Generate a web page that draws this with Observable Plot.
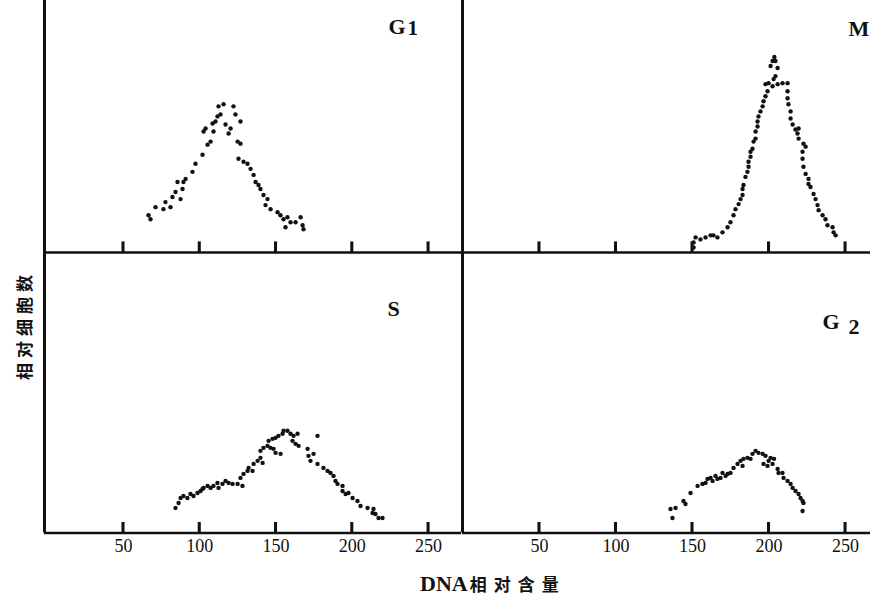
<!DOCTYPE html>
<html>
<head>
<meta charset="utf-8">
<script src="https://cdn.jsdelivr.net/npm/d3@7"></script>
<script src="https://cdn.jsdelivr.net/npm/@observablehq/plot@0.6"></script>
<style>
  html, body { margin: 0; padding: 0; background: #fff; }
  #chart { position: relative; width: 870px; height: 598px; overflow: hidden; background: #fff; }
  #chart svg { position: absolute; }
  .ylab { position: absolute; left: 23px; top: 325px; transform: translate(-50%, -50%) rotate(-90deg);
          white-space: nowrap; font-family: "Noto Sans CJK SC"; font-weight: bold; font-size: 17px;
          letter-spacing: 5px; color: #111; }
  .xlab { position: absolute; left: 420px; top: 573px; white-space: nowrap; line-height: 22px; color: #111; }
  .xlab .latin { font-family: "Liberation Serif"; font-weight: bold; font-size: 22px; }
  .xlab .cjk { font-family: "Noto Sans CJK SC"; font-weight: bold; font-size: 17px; letter-spacing: 7px; margin-left: 2px; }
</style>
</head>
<body>
<div id="chart">
  <div class="ylab">相对细胞数</div>
  <div class="xlab"><span class="latin">DNA</span><span class="cjk">相对含量</span></div>
</div>
<script>
// ---- data: [DNA relative content, relative cell number] ----
const xTicks = [50, 100, 150, 200, 250];

const g1 = [[66.4,14.8],[67.7,13.2],[71.0,18],[76.2,17.2],[77.5,20],[80.8,18],[82.1,22],[84.1,24],[85.4,28],[87.4,21.2],
  [88.7,25.2],[89.3,28],[90.7,29.2],[95.2,32],[97.2,35.2],[101.8,38.8],[105.1,42.8],[107.1,44],[102.5,48],[103.8,49.2],
  [109.0,48],[110.3,52],[108.4,51.2],[111.6,54],[112.3,58],[115.6,58.8],[113.6,54.8],[116.9,50.8],[120.2,49.2],[118.9,47.2],
  [122.1,58],[123.4,54.8],[126.7,52],[124.8,44],[126.7,43.2],[125.4,37.2],[128.7,36],[131.3,35.2],[133.3,33.2],[135.3,30.8],
  [136.6,28],[138.5,26.8],[139.8,25.2],[141.8,22.8],[144.4,21.2],[143.1,18.8],[146.4,17.2],[151.0,16],[152.9,14.8],[154.9,13.2],
  [157.5,14],[159.5,12],[162.8,12],[166.1,14],[156.2,10],[167.4,10.8],[168.0,9.2]];

const m = [[150.7,2],[150.7,4],[152.0,6],[155.2,5.2],[158.5,6],[161.8,6.8],[163.7,6.8],[166.3,6],[169.6,8],[172.9,10],
  [174.8,12],[176.8,14.8],[178.1,17.2],[180.1,19.2],[181.4,21.2],[182.7,22.8],[182.7,25.2],[183.3,26.8],[184.6,30],[185.9,32],
  [186.6,34],[186.6,36],[187.9,38],[187.9,40],[189.2,41.2],[189.9,44],[191.2,45.2],[191.2,48],[192.5,50],[192.5,52],
  [193.1,54],[194.4,56],[195.8,58],[196.4,60],[197.7,62],[199.0,64],[197.7,66.8],[199.7,67.2],[202.3,66],[205.6,66.8],
  [208.8,67.2],[212.1,67.2],[203.0,68.8],[204.2,70],[201.0,74],[205.6,73.2],[202.3,76],[204.2,76],[203.5,77.6],[212.1,64],
  [212.1,61.2],[212.7,58.8],[214.1,56],[214.1,53.2],[215.4,50.8],[217.3,48.8],[219.3,49.2],[218.6,47.2],[219.3,45.2],[222.5,43.2],
  [223.9,42],[221.9,40],[221.9,37.2],[222.5,34],[223.9,31.2],[225.8,29.2],[225.8,27.2],[227.1,26],[229.1,23.2],[230.4,21.2],
  [231.7,18.8],[232.4,16.8],[235.0,14.8],[236.9,13.2],[238.2,10.8],[241.5,10],[242.2,8],[243.5,6.8]];

const s = [[84.1,10],[86.1,12],[87.4,14],[89.3,14.8],[91.9,14],[93.9,15.6],[95.9,14.8],[98.5,16],[100.5,16.8],[101.8,17.6],
  [102.5,18],[105.1,18.8],[107.1,18],[109.0,18.8],[111.6,20],[112.3,18],[114.9,19.6],[116.9,20.8],[118.9,20],[121.5,19.6],
  [124.8,19.6],[128.0,18.8],[126.7,22],[128.7,23.6],[131.3,24.8],[132.0,26],[134.6,24.8],[135.3,27.6],[137.9,28.8],[139.8,30],
  [141.2,28],[139.8,32.8],[141.8,34],[144.4,34.8],[146.4,34],[148.4,33.6],[145.1,36.8],[147.7,37.6],[149.7,38],[151.6,38.8],
  [154.3,39.6],[157.5,40.8],[154.9,40.8],[159.5,39.6],[161.5,38.8],[164.1,39.6],[160.8,36.8],[162.8,35.6],[164.8,34.8],[149.7,32],
  [153.0,31.6],[177.2,38.8],[170.7,33.6],[171.3,30.8],[172.6,28.8],[174.6,31.6],[177.2,27.6],[181.1,26],[183.8,24.8],[185.7,24],
  [187.7,22.8],[189.0,20.8],[190.3,19.6],[193.6,18.8],[193.6,16.8],[195.6,15.6],[197.5,16],[200.2,14],[203.4,12.8],[205.4,10.8],
  [210.0,10],[213.9,9.6],[217.2,6],[219.8,6],[213.3,8],[215.2,7.6]];

const g2 = [[136.9,6],[135.6,9.6],[138.9,10],[144.1,12.8],[145.4,11.6],[148.7,16],[153.3,18.8],[156.5,19.6],[158.5,20],[159.8,21.6],
  [161.8,22],[163.1,20.8],[165.0,22.8],[166.3,21.6],[168.3,22],[169.6,24],[171.6,22.8],[172.9,23.6],[174.8,24],[176.8,26],
  [179.4,27.6],[181.4,28.8],[182.7,26.8],[183.3,29.6],[185.9,30],[187.9,29.6],[189.2,31.6],[191.2,32.8],[193.1,32],[195.8,31.6],
  [197.7,30.8],[199.7,28.8],[202.3,27.6],[201.0,30],[203.3,29.6],[205.6,25.6],[206.2,24],[208.8,24],[209.5,22],[212.1,20.8],
  [214.1,19.6],[215.4,18],[217.3,16.8],[219.3,15.6],[220.6,14],[221.9,12.8],[222.5,12],[221.9,8.8],[196.4,27.6],[199.0,26.8]];

// ---- layout ----
const INK = "#111";
const serif = "Liberation Serif";

function place(svg, left, top) {
  svg.style.position = "absolute";
  svg.style.left = left + "px";
  svg.style.top = top + "px";
  return svg;
}

function panel({data, xDomain, yDomain, left, top, width, height, mL, mR, mT, mB, labels, tickLabels}) {
  const marks = [
    Plot.ruleX([xDomain[0]], {stroke: INK, strokeWidth: 3}),
    // short upward tick marks as thin filled rectangles sitting on the baseline
    Plot.rect(xTicks, {x1: d => d - 1, x2: d => d + 1, y1: () => 0, y2: () => 4.2, fill: INK, stroke: "none"}),
    Plot.dot(data, {x: d => d[0], y: d => d[1], r: 2.2, fill: INK, stroke: "none"}),
    Plot.ruleY([0], {stroke: INK, strokeWidth: 2.6})
  ];
  if (tickLabels) {
    marks.push(Plot.text(xTicks, {x: d => d, text: d => String(d), frameAnchor: "bottom", lineAnchor: "top",
      dy: 6, fontSize: 18, fontFamily: serif, fill: INK}));
  }
  for (const l of labels) {
    marks.push(Plot.text([l.t], {text: d => d, frameAnchor: "top-right", textAnchor: "start", lineAnchor: "middle",
      dx: l.dx, dy: l.dy, fontSize: l.size || 22, fontWeight: "bold", fontFamily: serif, fill: INK}));
  }
  chart.appendChild(place(Plot.plot({width, height,
    marginLeft: mL, marginRight: mR, marginTop: mT, marginBottom: mB,
    x: {domain: xDomain, axis: null}, y: {domain: yDomain, axis: null},
    style: {background: "transparent", overflow: "visible"}, marks}), left, top));
}

const chart = document.getElementById("chart");
const leftX = [-1.8, 271.6];
const rightX = [-0.3, 266.3];

panel({data: g1, xDomain: leftX, yDomain: [0, 100], left: 0, top: 0, width: 462, height: 254,
  mL: 44, mR: 1, mT: 0, mB: 2,
  labels: [{t: "G", dx: -73, dy: 26}, {t: "1", dx: -54, dy: 28, size: 21}], tickLabels: false});
panel({data: m, xDomain: rightX, yDomain: [0, 100], left: 460, top: 0, width: 410, height: 254,
  mL: 2, mR: 0, mT: 0, mB: 2,
  labels: [{t: "M", dx: -22, dy: 28}], tickLabels: false});
panel({data: s, xDomain: leftX, yDomain: [0, 112], left: 0, top: 250, width: 462, height: 348,
  mL: 44, mR: 1, mT: 2, mB: 65.5,
  labels: [{t: "S", dx: -74, dy: 56}], tickLabels: true});
panel({data: g2, xDomain: rightX, yDomain: [0, 112], left: 460, top: 250, width: 410, height: 348,
  mL: 2, mR: 0, mT: 2, mB: 65.5,
  labels: [{t: "G", dx: -48, dy: 69}, {t: "2", dx: -22, dy: 74}], tickLabels: true});
</script>
</body>
</html>
